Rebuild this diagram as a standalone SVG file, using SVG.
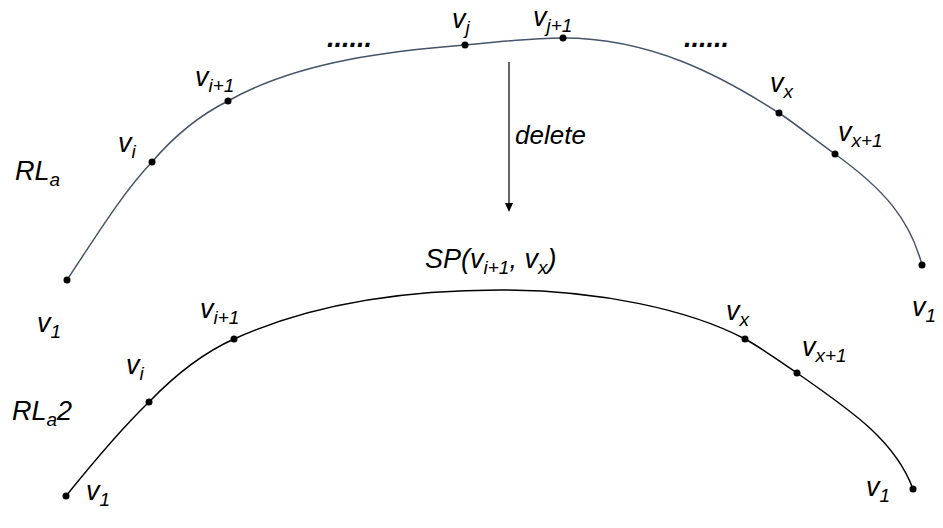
<svg xmlns="http://www.w3.org/2000/svg" width="943" height="528" viewBox="0 0 943 528">
<style>
text{font-family:"Liberation Sans",Arial,sans-serif;font-style:italic;font-size:27px;fill:#000}
.s{font-size:19px}
.d{font-size:26px}
</style>
<rect width="943" height="528" fill="#fff"/>
<g id="connectors">
<path d="M67,280 C100,230 125,190 152,162 C175,135 200,115 228,101 C300,60 400,50 465,45 C500,42 530,38 563,38 C650,38 720,75 779,113 C800,127 815,140 835,154 C885,190 910,220 922,265" fill="none" stroke="#44546A" stroke-width="1.5"/>
<path d="M66,496 C95,460 120,430 149,402 C175,375 205,352 234,339 C320,300 420,290 500,290 C600,290 690,310 745,339 C765,350 780,362 797,373 C850,410 895,440 913,489" fill="none" stroke="#000" stroke-width="1.5"/>
<line x1="509" y1="62" x2="509" y2="204" stroke="#000" stroke-width="1.2"/>
<path d="M505,203 L509,212 L513,203Z" fill="#000"/>
</g>
<g id="points" fill="#000">
<circle cx="67" cy="280" r="3.5"/><circle cx="152" cy="162" r="3.5"/><circle cx="228" cy="101" r="3.5"/><circle cx="465" cy="45" r="3.5"/><circle cx="563" cy="38" r="3.5"/><circle cx="779" cy="113" r="3.5"/><circle cx="835" cy="154" r="3.5"/><circle cx="922" cy="265" r="3.5"/>
<circle cx="66" cy="496" r="3.5"/><circle cx="149" cy="402" r="3.5"/><circle cx="234" cy="339" r="3.5"/><circle cx="745" cy="339" r="3.5"/><circle cx="797" cy="373" r="3.5"/><circle cx="913" cy="489" r="3.5"/>
</g>
<g id="labels">
<text x="118" y="152">v<tspan class="s" dy="6">i</tspan></text>
<text x="195" y="86">v<tspan class="s" dy="6">i+1</tspan></text>
<text x="452" y="28">v<tspan class="s" dy="6">j</tspan></text>
<text x="533" y="26">v<tspan class="s" dy="6">j+1</tspan></text>
<text x="770" y="92">v<tspan class="s" dy="6">x</tspan></text>
<text x="838" y="141">v<tspan class="s" dy="6">x+1</tspan></text>
<text x="15" y="180">RL<tspan class="s" dy="6">a</tspan></text>
<text x="37" y="332">v<tspan class="s" dy="6">1</tspan></text>
<text x="912" y="316">v<tspan class="s" dy="6">1</tspan></text>
<text x="327" y="47" font-weight="bold">......</text>
<text x="684" y="47" font-weight="bold">......</text>
<text x="515" y="144" class="d">delete</text>
<text x="425" y="268">SP(v<tspan class="s" dy="6">i+1</tspan><tspan dy="-6">, v</tspan><tspan class="s" dy="6">x</tspan><tspan dy="-6">)</tspan></text>
<text x="200" y="318">v<tspan class="s" dy="6">i+1</tspan></text>
<text x="126" y="374">v<tspan class="s" dy="6">i</tspan></text>
<text x="12" y="420">RL<tspan class="s" dy="6">a</tspan><tspan dy="-6">2</tspan></text>
<text x="86" y="500">v<tspan class="s" dy="6">1</tspan></text>
<text x="726" y="320">v<tspan class="s" dy="6">x</tspan></text>
<text x="802" y="356">v<tspan class="s" dy="6">x+1</tspan></text>
<text x="866" y="496">v<tspan class="s" dy="6">1</tspan></text>
</g>
</svg>
